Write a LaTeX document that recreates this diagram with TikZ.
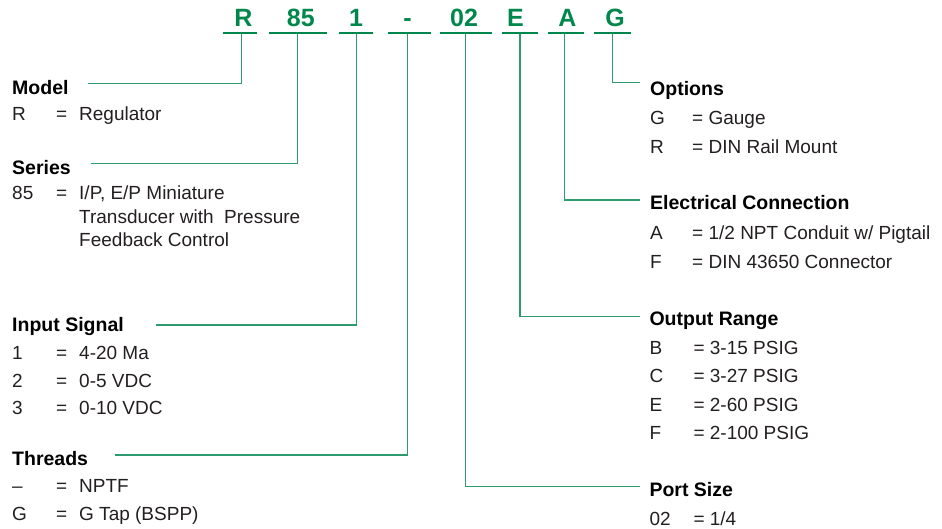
\documentclass[tikz,border=0pt]{standalone}
\usepackage{fontspec}
\setmainfont{Liberation Sans}
\usetikzlibrary{calc}
\definecolor{codegreen}{RGB}{0,135,75}
\definecolor{linegreen}{RGB}{45,155,110}
\definecolor{bodyblack}{RGB}{35,31,32}
\tikzset{
  codechar/.style={anchor=base,inner sep=0pt,text=codegreen,font=\fontsize{25}{28}\selectfont\bfseries},
  codeline/.style={draw=codegreen,line width=2pt},
  conn/.style={draw=linegreen,line width=1.3pt},
  heading/.style={anchor=base west,inner sep=0pt,text=black,font=\fontsize{19.5}{23}\selectfont\bfseries},
  body/.style={anchor=base west,inner sep=0pt,text=bodyblack,font=\fontsize{19}{23}\selectfont},
}
\begin{document}
\begin{tikzpicture}[x=1pt,y=-1pt]
\useasboundingbox (0,0) rectangle (942,529);
% code letters
\node[codechar] (cR) at (243.3,27) {R};
\node[codechar] (c85) at (300.8,27) {85};
\node[codechar] (c1) at (356,27) {1};
\node[codechar] (cD) at (407.5,27) {-};
\node[codechar] (c02) at (464,27) {02};
\node[codechar] (cE) at (515.5,27) {E};
\node[codechar] (cA) at (567.5,27) {A};
\node[codechar] (cG) at (615,27) {G};
% underlines
\coordinate (uR1) at (222.7,33.3); \coordinate (uR2) at (257.3,33.3);
\coordinate (u851) at (269,33.3); \coordinate (u852) at (327,33.3);
\coordinate (u11) at (338.7,33.3); \coordinate (u12) at (373.3,33.3);
\coordinate (uD1) at (387.7,33.3); \coordinate (uD2) at (431,33.3);
\coordinate (u021) at (440,33.3); \coordinate (u022) at (491.7,33.3);
\coordinate (uE1) at (501.7,33.3); \coordinate (uE2) at (538.3,33.3);
\coordinate (uA1) at (547.7,33.3); \coordinate (uA2) at (584.3,33.3);
\coordinate (uG1) at (594.3,33.3); \coordinate (uG2) at (631,33.3);
\foreach \k in {R,85,1,D,02,E,A,G} {\draw[codeline] (u\k1) -- (u\k2);}
% stem tops
\coordinate (sR) at (241.7,34.3);
\coordinate (s85) at (297.7,34.3);
\coordinate (s1) at (356.7,34.3);
\coordinate (sD) at (407.3,34.3);
\coordinate (s02) at (465.7,34.3);
\coordinate (sE) at (520,34.3);
\coordinate (sA) at (564.5,34.3);
\coordinate (sG) at (612.7,34.3);

% ---------- left column ----------
\node[heading] (hModel) at (12,94.3) {Model};
\node[body] (mk1) at (12,121) {R};
\node[body] (me1) at (56,121) {=};
\node[body] (mv1) at (79,121) {Regulator};

\node[heading] (hSeries) at (12,174.3) {Series};
\node[body] (sk1) at (12,200) {85};
\node[body] (se1) at (56,200) {=};
\node[body] (sv1) at (79,200) {I/P, E/P Miniature};
\node[body] (sv2) at (79,223.3) {Transducer with~ Pressure};
\node[body] (sv3) at (79,246.7) {Feedback Control};

\node[heading] (hInput) at (12,331.7) {Input Signal};
\node[body] (ik1) at (12,359.5) {1};
\node[body] (ie1) at (56,359.5) {=};
\node[body] (iv1) at (79,359.5) {4-20 Ma};
\node[body] (ik2) at (12,387) {2};
\node[body] (ie2) at (56,387) {=};
\node[body] (iv2) at (79,387) {0-5 VDC};
\node[body] (ik3) at (12,414.5) {3};
\node[body] (ie3) at (56,414.5) {=};
\node[body] (iv3) at (79,414.5) {0-10 VDC};

\node[heading] (hThreads) at (12,465) {Threads};
\node[body] (tk1) at (12,492.7) {–};
\node[body] (te1) at (56,492.7) {=};
\node[body] (tv1) at (79,492.7) {NPTF};
\node[body] (tk2) at (12,520) {G};
\node[body] (te2) at (56,520) {=};
\node[body] (tv2) at (79,520) {G Tap (BSPP)};

% left connectors
\coordinate (lModel) at (88.3,83.3);
\coordinate (lSeries) at (90.7,163.3);
\coordinate (lInput) at (155.7,325);
\coordinate (lThreads) at (115,455);
\draw[conn] (lModel) -| (sR);
\draw[conn] (lSeries) -| (s85);
\draw[conn] (lInput) -| (s1);
\draw[conn] (lThreads) -| (sD);

% ---------- right column ----------
\node[heading] (hOptions) at (650,96) {Options};
\node[body] (ok1) at (650,124.3) {G};
\node[body] (ov1) at (692,124.3) {= Gauge};
\node[body] (ok2) at (650,153.3) {R};
\node[body] (ov2) at (692,153.3) {= DIN Rail Mount};

\node[heading] (hElec) at (650,210) {Electrical Connection};
\node[body] (ek1) at (650,240) {A};
\node[body] (ev1) at (692,240) {= 1/2 NPT Conduit w/ Pigtail};
\node[body] (ek2) at (650,268.3) {F};
\node[body] (ev2) at (692,268.3) {= DIN 43650 Connector};

\node[heading] (hOutput) at (649.3,325) {Output Range};
\node[body] (rk1) at (649.3,354) {B};
\node[body] (rv1) at (693.3,354) {= 3-15 PSIG};
\node[body] (rk2) at (649.3,382.7) {C};
\node[body] (rv2) at (693.3,382.7) {= 3-27 PSIG};
\node[body] (rk3) at (649.3,411) {E};
\node[body] (rv3) at (693.3,411) {= 2-60 PSIG};
\node[body] (rk4) at (649.3,439.3) {F};
\node[body] (rv4) at (693.3,439.3) {= 2-100 PSIG};

\node[heading] (hPort) at (649.3,496) {Port Size};
\node[body] (pk1) at (649.3,525) {02};
\node[body] (pv1) at (693.3,525) {= 1/4};

% right connectors
\coordinate (rOptions) at (640,82.7);
\coordinate (rElec) at (640,200);
\coordinate (rOutput) at (640,316.7);
\coordinate (rPort) at (640,486.7);
\draw[conn] (sG) |- (rOptions);
\draw[conn] (sA) |- (rElec);
\draw[conn] (sE) |- (rOutput);
\draw[conn] (s02) |- (rPort);
\end{tikzpicture}
\end{document}
